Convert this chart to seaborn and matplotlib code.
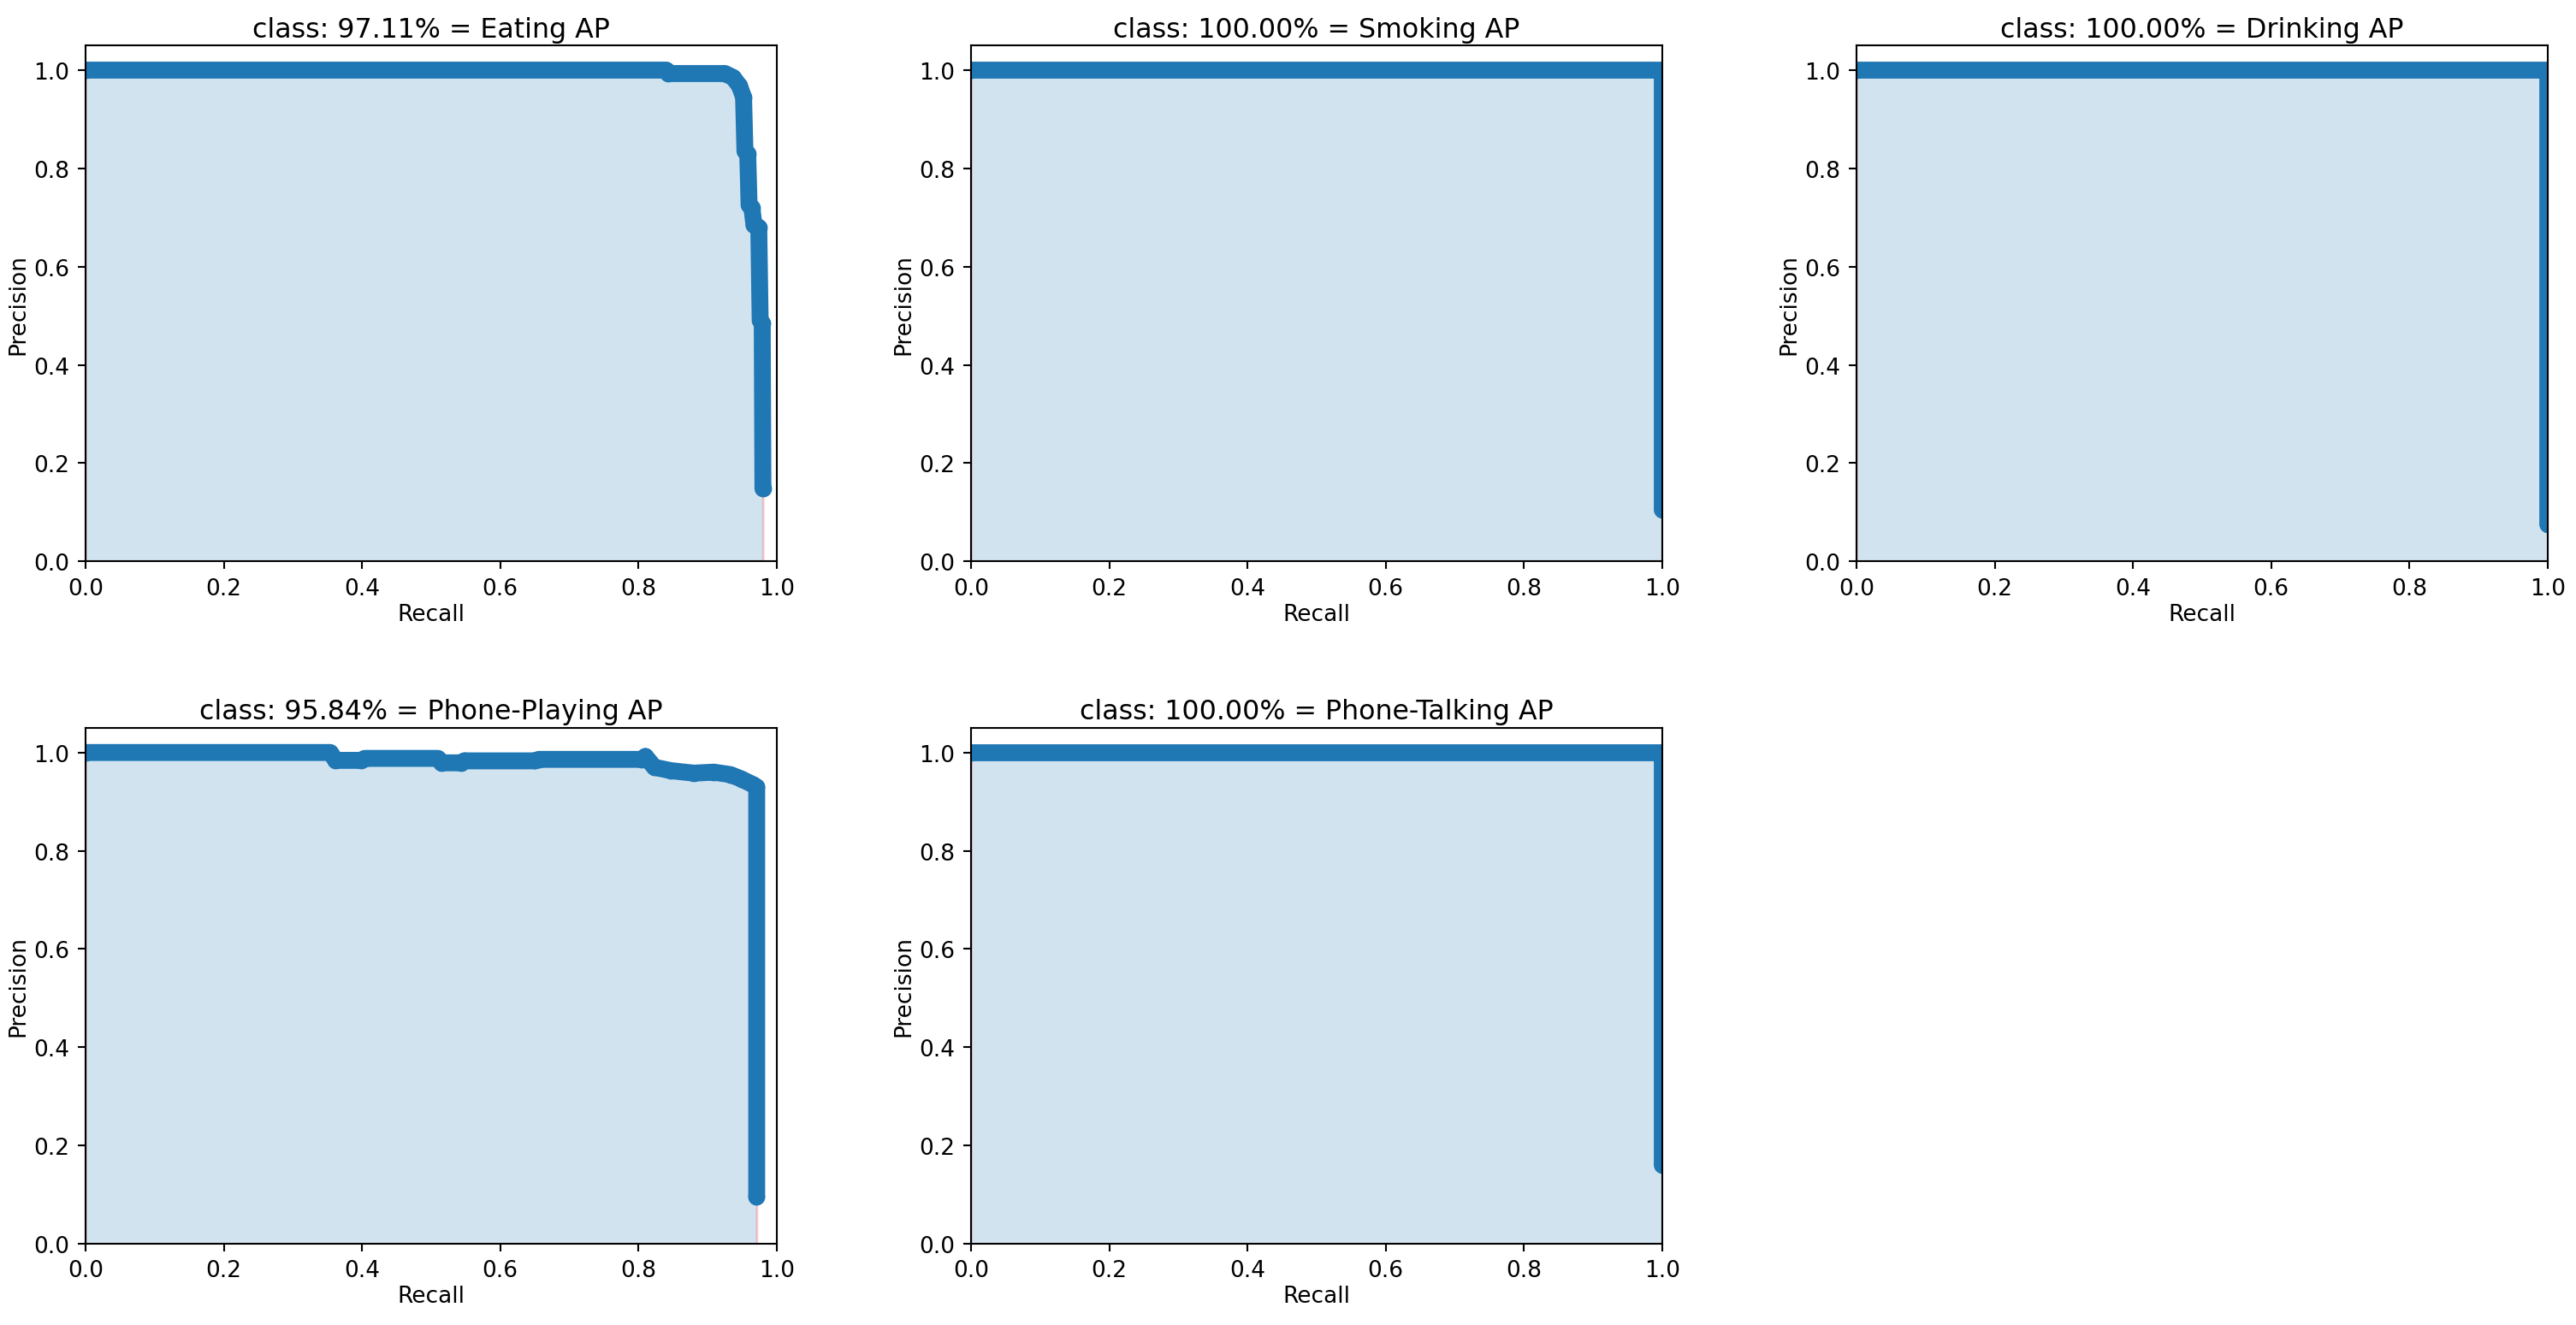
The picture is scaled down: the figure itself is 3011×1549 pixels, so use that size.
import numpy as np
import matplotlib
matplotlib.use("Agg")
import matplotlib.pyplot as plt
import seaborn as sns

# per-class precision/recall
classes = ["Eating", "Smoking", "Drinking", "Phone-Playing", "Phone-Talking"]
ap_values = [97.11, 100.00, 100.00, 95.84, 100.00]

eating_rec = [0.0, 0.840, 0.843, 0.925, 0.937, 0.946, 0.952, 0.954, 0.958, 0.960,
              0.964, 0.967, 0.974, 0.976, 0.979, 0.980]
eating_prec = [1.0, 1.0, 0.993, 0.993, 0.985, 0.968, 0.945, 0.835, 0.830, 0.725,
               0.720, 0.685, 0.680, 0.490, 0.485, 0.148]

smoking_rec = [0.0, 1.0, 1.0]
smoking_prec = [1.0, 1.0, 0.105]

drinking_rec = [0.0, 1.0, 1.0]
drinking_prec = [1.0, 1.0, 0.075]

playing_rec = [0.0, 0.354, 0.362, 0.398, 0.404, 0.510, 0.515, 0.543, 0.548, 0.650,
               0.656, 0.805, 0.810, 0.823, 0.847, 0.880, 0.909, 0.933, 0.949, 0.965,
               0.971, 0.971]
playing_prec = [1.0, 1.0, 0.984, 0.984, 0.988, 0.988, 0.979, 0.979, 0.983, 0.983,
                0.986, 0.986, 0.992, 0.970, 0.963, 0.958, 0.960, 0.955, 0.946, 0.935,
                0.930, 0.096]

talking_rec = [0.0, 1.0, 1.0]
talking_prec = [1.0, 1.0, 0.16]

recalls = [eating_rec, smoking_rec, drinking_rec, playing_rec, talking_rec]
precisions = [eating_prec, smoking_prec, drinking_prec, playing_prec, talking_prec]

fig, axes = plt.subplots(2, 3, figsize=(3011 / 190, 1550 / 190), dpi=190)
fig.subplots_adjust(left=0.0332, right=0.989, top=0.965, bottom=0.0613,
                    wspace=0.281, hspace=0.323)

blue = "#1f77b4"
for i, name in enumerate(classes):
    ax = axes.flat[i]
    rec = recalls[i]
    prec = precisions[i]

    # interpolated (monotone) precision for the shaded area
    mrec = [0.0] + rec + [1.0]
    mpre = [0.0] + prec + [0.0]
    for j in range(len(mpre) - 2, -1, -1):
        mpre[j] = max(mpre[j], mpre[j + 1])
    area_x = mrec[:-1] + [mrec[-2]] + [mrec[-1]]
    area_y = mpre[:-1] + [0.0] + [mpre[-1]]
    ax.fill_between(area_x, 0, area_y, alpha=0.2, edgecolor="r")

    sns.lineplot(x=rec, y=prec, ax=ax, sort=False, estimator=None,
                 marker="o", markersize=7.5, linewidth=7.5, color=blue,
                 mec=blue, mew=0, solid_capstyle="round", solid_joinstyle="round")

    ax.set_title("class: {:.2f}% = {} AP".format(ap_values[i], name), pad=4)
    ax.set_xlabel("Recall", labelpad=1.5)
    ax.set_ylabel("Precision", labelpad=2)
    ax.set_xlim(0.0, 1.0)
    ax.set_ylim(0.0, 1.05)

axes.flat[5].axis("off")

plt.savefig("out.png", dpi=190)
